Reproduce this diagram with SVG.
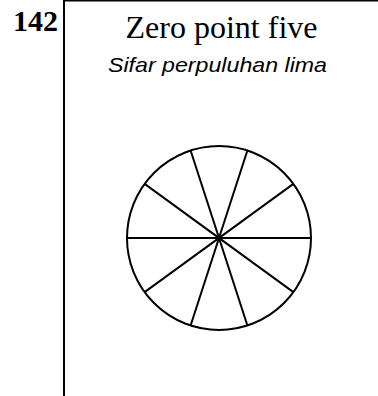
<svg xmlns="http://www.w3.org/2000/svg" width="378" height="396" viewBox="0 0 378 396">
<style>
.frame{stroke:#000;fill:none}
.wheel{stroke:#000;stroke-width:2;fill:none}
.num{font-family:"Liberation Serif","Times New Roman",serif;font-weight:bold;font-size:30px;fill:#000}
.title{font-family:"Liberation Serif","Times New Roman",serif;font-size:32px;fill:#000}
.sub{font-family:"Liberation Sans",Arial,sans-serif;font-style:italic;font-size:21px;fill:#000}
</style>
<rect width="378" height="396" fill="#fff"/>
<g id="frame">
<line class="frame" x1="63" y1="0.8" x2="378" y2="0.8" stroke-width="1.6"/>
<line class="frame" x1="64" y1="0" x2="64" y2="396" stroke-width="2"/>
</g>
<g id="number"><text class="num" x="13" y="31">142</text></g>
<g id="title"><text class="title" x="221.5" y="38" text-anchor="middle">Zero point five</text></g>
<g id="subtitle"><text class="sub" x="108" y="72" textLength="219" lengthAdjust="spacingAndGlyphs">Sifar perpuluhan lima</text></g>
<g id="wheel">
<circle class="wheel" cx="219" cy="238" r="92"/>
<g class="wheel">
<line x1="127" y1="238" x2="311" y2="238"/>
<line x1="293.4" y1="183.9" x2="144.6" y2="292.1"/>
<line x1="247.4" y1="150.5" x2="190.6" y2="325.5"/>
<line x1="190.6" y1="150.5" x2="247.4" y2="325.5"/>
<line x1="144.6" y1="183.9" x2="293.4" y2="292.1"/>
</g>
</g>
</svg>
